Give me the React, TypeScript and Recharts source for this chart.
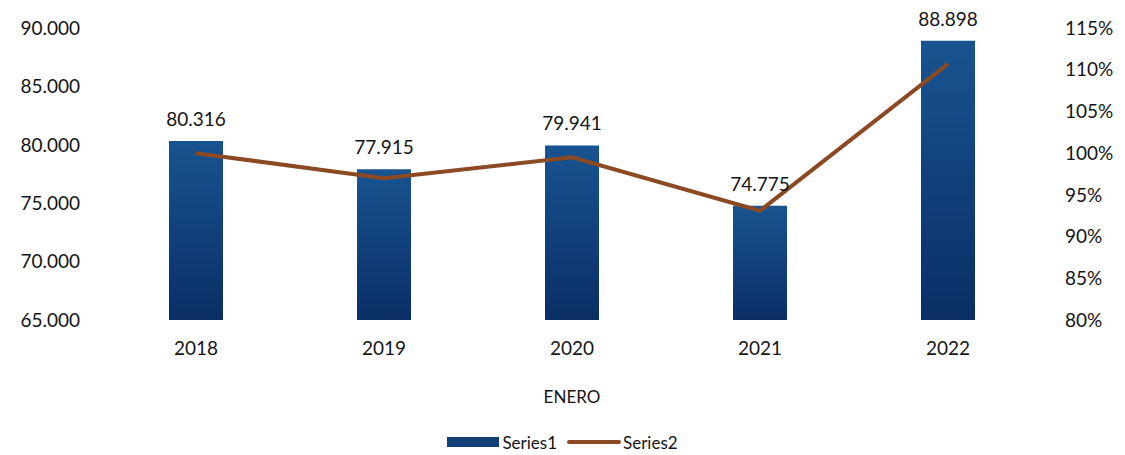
import { ComposedChart, Bar, Line, XAxis, YAxis, Legend, LabelList } from 'recharts';

const years = ['2018', '2019', '2020', '2021', '2022'];
const series1 = [80316, 77915, 79941, 74775, 88898];
const series2 = [1.0, 0.97, 0.995, 0.931, 1.107];
const leftTicks = [65000, 70000, 75000, 80000, 85000, 90000];
const rightTicks = [0.8, 0.85, 0.9, 0.95, 1.0, 1.05, 1.1, 1.15];

const data = years.map((year, i) => ({
  year,
  Series1: series1[i],
  Series2: series2[i],
}));

const FONT = 'Lato, "Open Sans", sans-serif';
const TEXT = '#141414';

const fmtThousands = (v: number) => v.toLocaleString('en-US').replace(/,/g, '.');
const fmtPct = (v: number) => `${Math.round(v * 100)}%`;

const LegendContent = () => (
  <div
    style={{
      height: 26,
      display: 'flex',
      justifyContent: 'center',
      alignItems: 'center',
      fontFamily: FONT,
      fontSize: 17,
      color: TEXT,
      paddingLeft: 0,
    }}
  >
    <span style={{ display: 'inline-block', width: 52, height: 10, background: '#123f78', marginRight: 3 }} />
    <span style={{ marginRight: 10 }}>Series1</span>
    <span style={{ display: 'inline-block', width: 54, height: 4, background: '#8b4a24', marginRight: 2, borderRadius: 2 }} />
    <span>Series2</span>
  </div>
);

export default function App() {
  return (
    <div style={{ position: 'absolute', left: 0, top: 0, background: '#fff' }}>
      <ComposedChart
        width={1125}
        height={455}
        data={data}
        margin={{ top: 28, right: 0, bottom: 0, left: 0 }}
        style={{ fontFamily: FONT }}
      >
        <defs>
          <linearGradient id="barFill" x1="0" y1="0" x2="0" y2="1">
            <stop offset="0%" stopColor="#185490" />
            <stop offset="100%" stopColor="#0a2e66" />
          </linearGradient>
        </defs>
        <XAxis
          dataKey="year"
          axisLine={false}
          tickLine={false}
          tickSize={0}
          tickMargin={22}
          height={109}
          tick={{ fill: TEXT, fontSize: 19 }}
          label={{ value: 'ENERO', position: 'insideBottom', offset: 26, fill: TEXT, fontSize: 17 }}
        />
        <YAxis
          yAxisId="left"
          domain={[65000, 90000]}
          ticks={leftTicks}
          tickFormatter={fmtThousands}
          axisLine={false}
          tickLine={false}
          tickSize={0}
          tickMargin={22}
          width={102}
          tick={{ fill: TEXT, fontSize: 19 }}
        />
        <YAxis
          yAxisId="right"
          orientation="right"
          domain={[0.8, 1.15]}
          ticks={rightTicks}
          tickFormatter={fmtPct}
          axisLine={false}
          tickLine={false}
          tickSize={0}
          tickMargin={23}
          width={83}
          tick={{ fill: TEXT, fontSize: 19, textAnchor: 'start' }}
        />
        <Legend verticalAlign="bottom" height={26} content={LegendContent} />
        <Bar yAxisId="left" dataKey="Series1" fill="url(#barFill)" barSize={54} isAnimationActive={false}>
          <LabelList dataKey="Series1" position="top" offset={15} formatter={(v: any) => fmtThousands(Number(v))} fill={TEXT} fontSize={19} />
        </Bar>
        <Line
          yAxisId="right"
          dataKey="Series2"
          type="linear"
          stroke="#8b4a24"
          strokeWidth={4}
          dot={false}
          activeDot={false}
          isAnimationActive={false}
        />
      </ComposedChart>
    </div>
  );
}
